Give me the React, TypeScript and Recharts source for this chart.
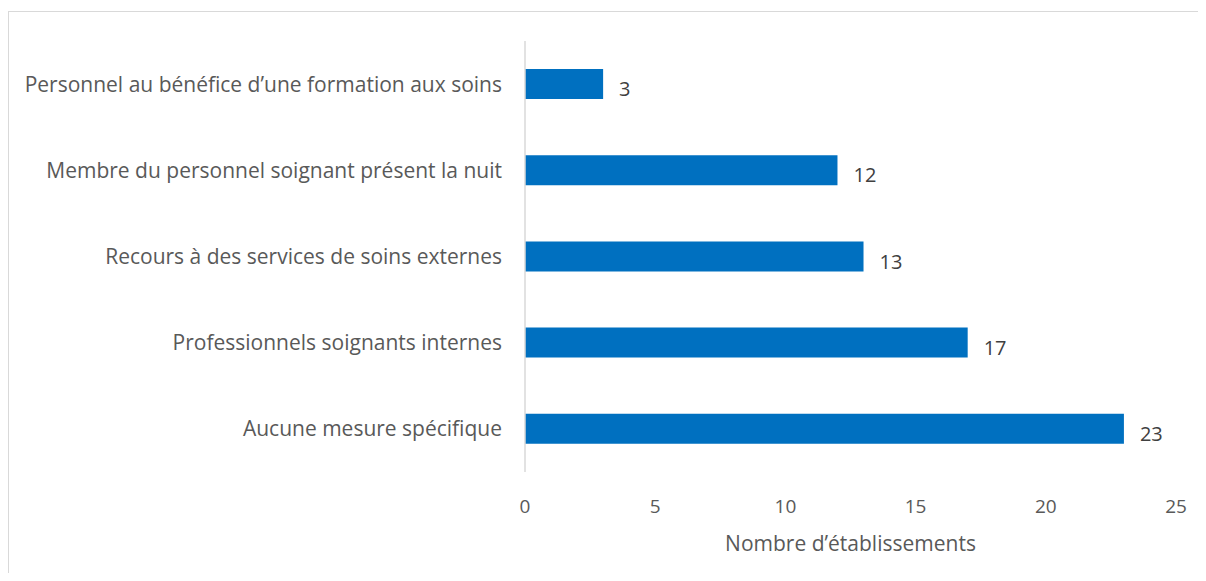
import React from "react";
import { BarChart, Bar, XAxis, YAxis, LabelList, Cell } from "recharts";

const categories = [
  "Personnel au bénéfice d’une formation aux soins",
  "Membre du personnel soignant présent la nuit",
  "Recours à des services de soins externes",
  "Professionnels soignants internes",
  "Aucune mesure spécifique",
];
const values = [3, 12, 13, 17, 23];
const xTicks = [0, 5, 10, 15, 20, 25];

const data = categories.map((label, i) => ({ label, value: values[i] }));

const FONT = "'Open Sans', sans-serif";
const TEXT = "#595959";
const BLUE = "#0070C0";

export default function App() {
  return (
    <div
      style={{
        marginTop: 3,
        width: 1198,
        height: 562,
        borderLeft: "1px solid #d9d9d9",
        borderTop: "1px solid #d9d9d9",
        boxSizing: "border-box",
        fontFamily: FONT,
      }}
    >
      <BarChart
        width={1189}
        height={561}
        data={data}
        layout="vertical"
        margin={{ top: 29, right: 22, bottom: 0, left: 0 }}
        barSize={30}
      >
        <XAxis
          type="number"
          domain={[0, 25]}
          ticks={xTicks}
          axisLine={false}
          tickLine={false}
          tickMargin={22}
          height={101}
          tick={{ fontSize: 19, fill: TEXT, fontFamily: FONT }}
          label={{
            value: "Nombre d’établissements",
            position: "insideBottom",
            offset: 22,
            fontSize: 21,
            fill: TEXT,
            fontFamily: FONT,
          }}
        />
        <YAxis
          type="category"
          dataKey="label"
          width={516}
          axisLine={{ stroke: "#d9d9d9", strokeWidth: 1.5 }}
          tickLine={false}
          tickMargin={17}
          tick={{ fontSize: 21, fill: TEXT, fontFamily: FONT }}
        />
        <Bar dataKey="value" fill={BLUE} isAnimationActive={false}>
          {data.map((d, i) => (
            <Cell key={i} fill={BLUE} />
          ))}
          <LabelList
            dataKey="value"
            position="right"
            offset={16}
            style={{ fontSize: 20, fill: "#404040", fontFamily: FONT }}
            dy={5}
          />
        </Bar>
      </BarChart>
    </div>
  );
}
